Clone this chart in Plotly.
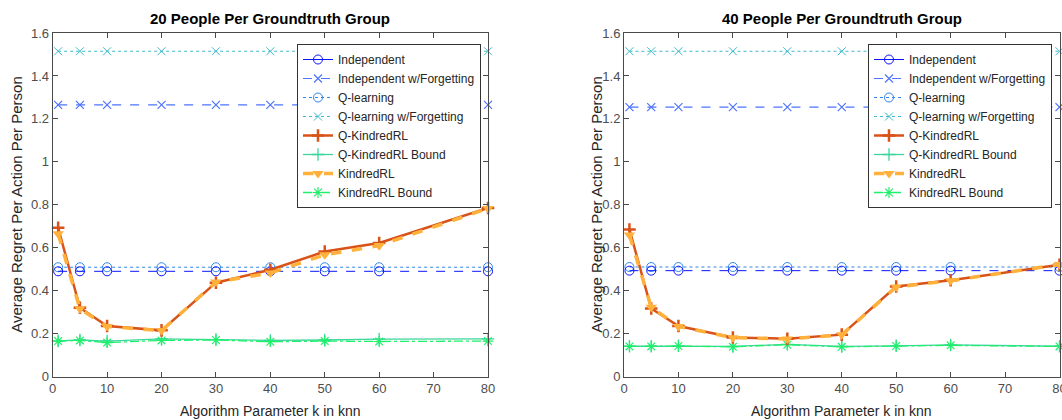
import plotly.graph_objects as go

k_values = [1, 5, 10, 20, 30, 40, 50, 60, 80]

# Left panel: 20 people per group
left_independent = [0.49] * 9
left_independent_forget = [1.265] * 9
left_qlearning = [0.509] * 9
left_qlearning_forget = [1.515] * 9
left_q_kindred = [0.693, 0.32, 0.235, 0.215, 0.437, 0.497, 0.582, 0.622, 0.785]
left_q_kindred_bound = [0.166, 0.17, 0.165, 0.175, 0.172, 0.168, 0.17, 0.174, 0.175]
left_kindred = [0.665, 0.315, 0.233, 0.214, 0.44, 0.482, 0.567, 0.61, 0.783]
left_kindred_bound = [0.165, 0.168, 0.158, 0.168, 0.17, 0.162, 0.165, 0.163, 0.165]

# Right panel: 40 people per group
right_independent = [0.493] * 9
right_independent_forget = [1.255] * 9
right_qlearning = [0.51] * 9
right_qlearning_forget = [1.515] * 9
right_q_kindred = [0.685, 0.317, 0.235, 0.182, 0.176, 0.195, 0.419, 0.448, 0.52]
right_q_kindred_bound = [0.141, 0.141, 0.143, 0.14, 0.15, 0.14, 0.143, 0.147, 0.141]
right_kindred = [0.659, 0.323, 0.233, 0.181, 0.175, 0.194, 0.417, 0.446, 0.522]
right_kindred_bound = [0.14, 0.14, 0.142, 0.138, 0.148, 0.138, 0.142, 0.145, 0.14]

titles = ["20 People Per Groundtruth Group", "40 People Per Groundtruth Group"]
x_ticks = [0, 10, 20, 30, 40, 50, 60, 70, 80]
y_ticks = [0, 0.2, 0.4, 0.6, 0.8, 1.0, 1.2, 1.4, 1.6]
y_tick_text = ["0", "0.2", "0.4", "0.6", "0.8", "1", "1.2", "1.4", "1.6"]

FONT = "Liberation Sans, Arial, sans-serif"

series_names = ["Independent", "Independent w/Forgetting", "Q-learning", "Q-learning w/Forgetting",
                "Q-KindredRL", "Q-KindredRL Bound", "KindredRL", "KindredRL Bound"]

styles = {
    "Independent": dict(line=dict(color="#0a14ff", width=1, dash="solid"),
                        marker=dict(symbol="circle-open", size=9, color="#0a14ff", line=dict(width=1))),
    "Independent w/Forgetting": dict(line=dict(color="#4d73ff", width=1.2, dash="dash"),
                                     marker=dict(symbol="x-thin-open", size=8, color="#4d73ff", line=dict(width=1.2))),
    "Q-learning": dict(line=dict(color="#2f86ea", width=1, dash="dot"),
                       marker=dict(symbol="circle-open", size=9, color="#2f86ea", line=dict(width=1))),
    "Q-learning w/Forgetting": dict(line=dict(color="#3fbccc", width=1, dash="dot"),
                                    marker=dict(symbol="x-thin-open", size=8, color="#3fbccc", line=dict(width=1))),
    "Q-KindredRL": dict(line=dict(color="#d95319", width=2.5, dash="solid"),
                        marker=dict(symbol="cross-thin-open", size=9, color="#d95319", line=dict(width=2.5))),
    "Q-KindredRL Bound": dict(line=dict(color="#3ad69c", width=1.3, dash="solid"),
                              marker=dict(symbol="cross-thin-open", size=9, color="#3ad69c", line=dict(width=1.3))),
    "KindredRL": dict(line=dict(color="#ffb13b", width=3.5, dash="dash"),
                      marker=dict(symbol="triangle-down", size=10, color="#ffb13b", line=dict(width=0))),
    "KindredRL Bound": dict(line=dict(color="#1ff06a", width=1.3, dash="dashdot"),
                            marker=dict(symbol="asterisk-open", size=9, color="#1ff06a", line=dict(width=1.2))),
}

panels = [
    [left_independent, left_independent_forget, left_qlearning, left_qlearning_forget,
     left_q_kindred, left_q_kindred_bound, left_kindred, left_kindred_bound],
    [right_independent, right_independent_forget, right_qlearning, right_qlearning_forget,
     right_q_kindred, right_q_kindred_bound, right_kindred, right_kindred_bound],
]

W, H = 1062, 420
x_domains = [[52.7 / W, 488 / W], [624 / W, 1059.5 / W]]
y_domain = [(H - 376.5) / H, (H - 33) / H]

fig = go.Figure()

for p, data in enumerate(panels):
    xa = "x" if p == 0 else "x2"
    ya = "y" if p == 0 else "y2"
    leg = "legend" if p == 0 else "legend2"
    for name in series_names:
        st = styles[name]
        fig.add_trace(go.Scatter(x=[None], y=[None], mode="lines+markers", name=name,
                                 line=st["line"], marker=st["marker"], xaxis=xa, yaxis=ya,
                                 legend=leg, showlegend=True, hoverinfo="skip"))
    draw_order = [3, 1, 2, 0, 5, 7, 4, 6]
    for i in draw_order:
        name = series_names[i]
        st = styles[name]
        line = dict(st["line"])
        if name == "Independent":
            line = dict(line, dash="dash")
        fig.add_trace(go.Scatter(x=k_values, y=data[i], mode="lines+markers", name=name,
                                 line=line, marker=st["marker"], xaxis=xa, yaxis=ya,
                                 showlegend=False, cliponaxis=False))

axis_common = dict(showgrid=False, zeroline=False, showline=True, mirror="ticks",
                   linecolor="#4a4a4a", linewidth=1, ticks="inside", ticklen=5, tickcolor="#4a4a4a",
                   tickfont=dict(family=FONT, size=13, color="#4d4d4d"), automargin=False,
                   ticklabeloverflow="allow")

legend_common = dict(xanchor="left", yanchor="top", bgcolor="white",
                     bordercolor="#333333", borderwidth=1, font=dict(family=FONT, size=12, color="#262626"),
                     tracegroupgap=0, itemwidth=30)

fig.update_layout(
    width=W, height=H, margin=dict(l=0, r=0, t=0, b=0),
    paper_bgcolor="white", plot_bgcolor="white",
    xaxis=dict(axis_common, domain=x_domains[0], range=[0, 80], tickvals=x_ticks, anchor="y"),
    yaxis=dict(axis_common, domain=y_domain, range=[0, 1.6], tickvals=y_ticks, ticktext=y_tick_text, anchor="x"),
    xaxis2=dict(axis_common, domain=x_domains[1], range=[0, 80], tickvals=x_ticks, anchor="y2"),
    yaxis2=dict(axis_common, domain=y_domain, range=[0, 1.6], tickvals=y_ticks, ticktext=y_tick_text, anchor="x2"),
    legend=dict(legend_common, x=297 / W, y=1 - 44 / H),
    legend2=dict(legend_common, x=868 / W, y=1 - 44 / H),
    showlegend=True,
)

annotations = []
for p in range(2):
    cx = (x_domains[p][0] + x_domains[p][1]) / 2
    annotations.append(dict(text="<b>" + titles[p] + "</b>", x=cx, y=1 - 19 / H, xref="paper", yref="paper",
                            showarrow=False, font=dict(family=FONT, size=15, color="#000000"),
                            xanchor="center", yanchor="middle"))
    annotations.append(dict(text="Algorithm Parameter k in knn", x=cx, y=1 - 411 / H, xref="paper", yref="paper",
                            showarrow=False, font=dict(family=FONT, size=14, color="#262626"),
                            xanchor="center", yanchor="middle"))
    ytx = 17 if p == 0 else 597
    annotations.append(dict(text="Average Regret Per Action Per Person", x=ytx / W,
                            y=(y_domain[0] + y_domain[1]) / 2, xref="paper", yref="paper", textangle=-90,
                            showarrow=False, font=dict(family=FONT, size=15, color="#262626"),
                            xanchor="center", yanchor="middle"))
fig.update_layout(annotations=annotations)

fig.write_html("out.html", config={"displayModeBar": False},
               post_script="document.body.style.margin='0';document.body.style.padding='0';")
